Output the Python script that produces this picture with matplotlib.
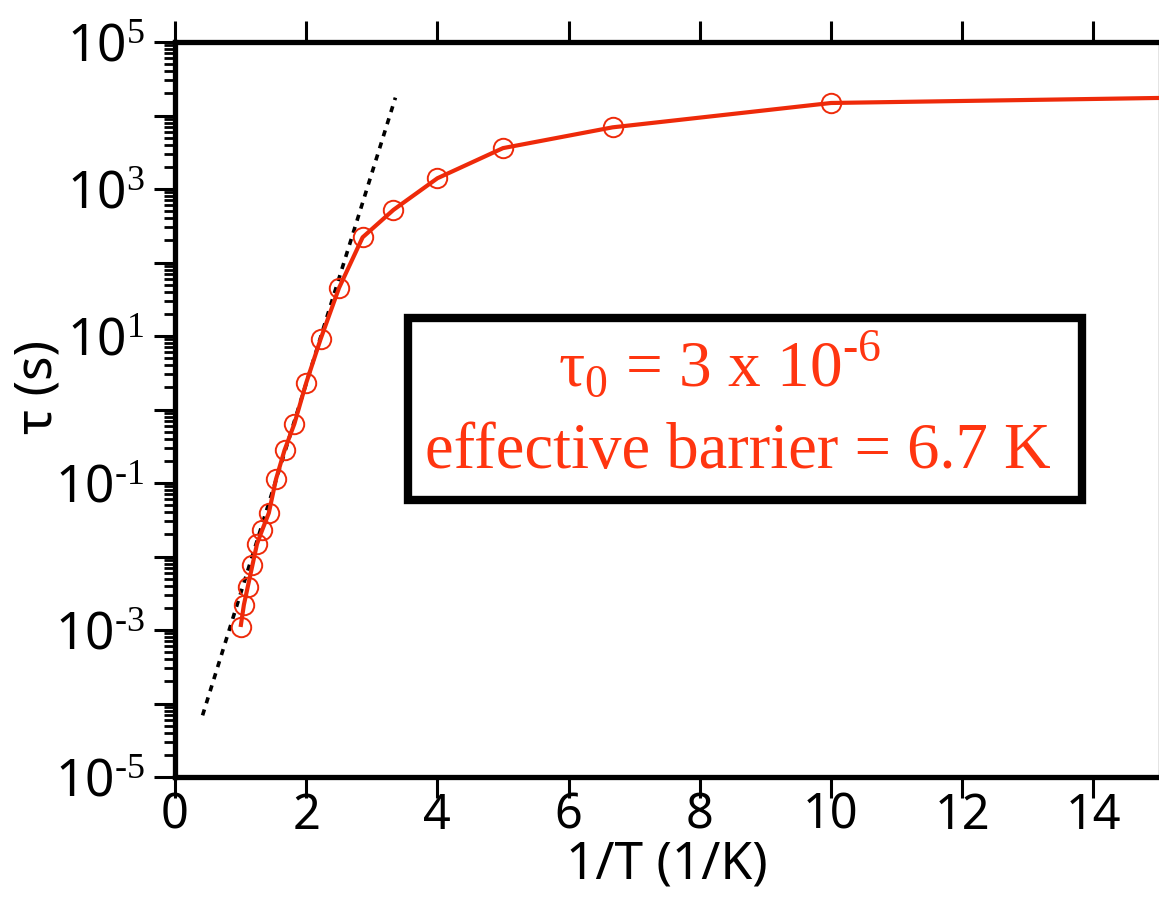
import numpy as np
import matplotlib
matplotlib.use("Agg")
import matplotlib.pyplot as plt
from matplotlib.ticker import LogLocator, FuncFormatter, FixedLocator
from matplotlib.patches import Rectangle

# --- data ---
inv_T = [10.0, 6.67, 5.0, 4.0, 3.33, 2.86, 2.5, 2.22, 2.0, 1.82,
         1.67, 1.54, 1.43, 1.33, 1.25, 1.18, 1.11, 1.05, 1.0]
tau = [1.48e4, 6.9e3, 3.6e3, 1.4e3, 5.2e2, 2.2e2, 45.0, 9.1, 2.3, 0.64,
       0.28, 0.113, 0.039, 0.023, 0.0148, 0.0076, 0.0039, 0.0022, 0.0011]

# the solid curve carries on past the last point to the right edge
tail_x = [15.5]
tail_y = [1.76e4]

# Arrhenius fit (dotted), end points
fit_x = [0.42, 3.36]
fit_y = [6.9e-5, 1.75e4]

RED = "#ee2a0a"
TXT_RED = "#ff3510"

plt.rcParams['font.family'] = ['Noto Sans', 'DejaVu Sans']
plt.rcParams['mathtext.fontset'] = 'custom'
plt.rcParams['mathtext.rm'] = 'Liberation Serif'

fig = plt.figure(figsize=(11.59, 9.06), dpi=100)
ax = fig.add_axes([175/1159, 1 - 777/906, (1159 - 175)/1159, (777 - 42)/906])

order = np.argsort(inv_T)
line_x = list(np.array(inv_T)[order]) + tail_x
line_y = list(np.array(tau)[order]) + tail_y
ax.plot(line_x, line_y, color=RED, lw=3.0, zorder=3, solid_capstyle='butt')
ax.plot(inv_T, tau, 'o', mfc='none', mec=RED, mew=1.4, ms=14, zorder=4)
ax.plot(fit_x, fit_y, color='black', lw=2.6, linestyle=(0, (1.7, 1.8)), zorder=2)

ax.set_yscale('log')
ax.set_xlim(0, 15)
ax.set_ylim(1e-5, 1e5)

ax.xaxis.set_major_locator(FixedLocator([0, 2, 4, 6, 8, 10, 12, 14]))
ax.yaxis.set_major_locator(LogLocator(base=10, numticks=20))
ax.yaxis.set_minor_locator(LogLocator(base=10, subs=np.arange(2, 10), numticks=20))

def ylab(v, pos):
    e = int(round(np.log10(v)))
    if e % 2 == 0:
        return ""
    return r"$\mathdefault{10^{\text{%d}}}$" % e

ax.yaxis.set_major_formatter(FuncFormatter(ylab))

ax.tick_params(axis='both', which='major', direction='out', labelsize=35,
               length=15, width=2.2, colors='black')
ax.tick_params(axis='y', which='major', labelsize=37, pad=7)
ax.tick_params(axis='x', which='major', top=True, pad=-5)
ax.tick_params(axis='y', which='minor', direction='out', length=8, width=2.0)
ax.tick_params(axis='x', which='minor', bottom=False, top=False)

for s in ['left', 'bottom', 'top']:
    ax.spines[s].set_linewidth(3.8)
ax.spines['right'].set_linewidth(1.0)
ax.spines['right'].set_color('#777777')

ax.set_xlabel("1/T (1/K)", fontsize=37)
ax.xaxis.set_label_coords(0.5, -0.085)
ax.set_ylabel("τ (s)", fontsize=37, fontweight='semibold')
ax.yaxis.set_label_coords(-0.113, 0.53)

# annotation box
box = Rectangle((408/1159, 1 - 500/906), (1082 - 408)/1159, (500 - 318)/906,
                transform=fig.transFigure, fill=True, facecolor='white',
                edgecolor='black', lw=6, zorder=5)
fig.patches.append(box)
serif = {'family': 'Liberation Serif', 'color': TXT_RED}
fig.text(720/1159, 1 - 365/906, r"τ$_0$ = 3 x 10$^{\text{-6}}$", fontsize=47,
         ha='center', va='center', zorder=6, **serif)
fig.text(738/1159, 1 - 452/906, "effective barrier = 6.7 K", fontsize=46.5,
         ha='center', va='center', zorder=6, **serif)

fig.savefig("out.png", dpi=100)
